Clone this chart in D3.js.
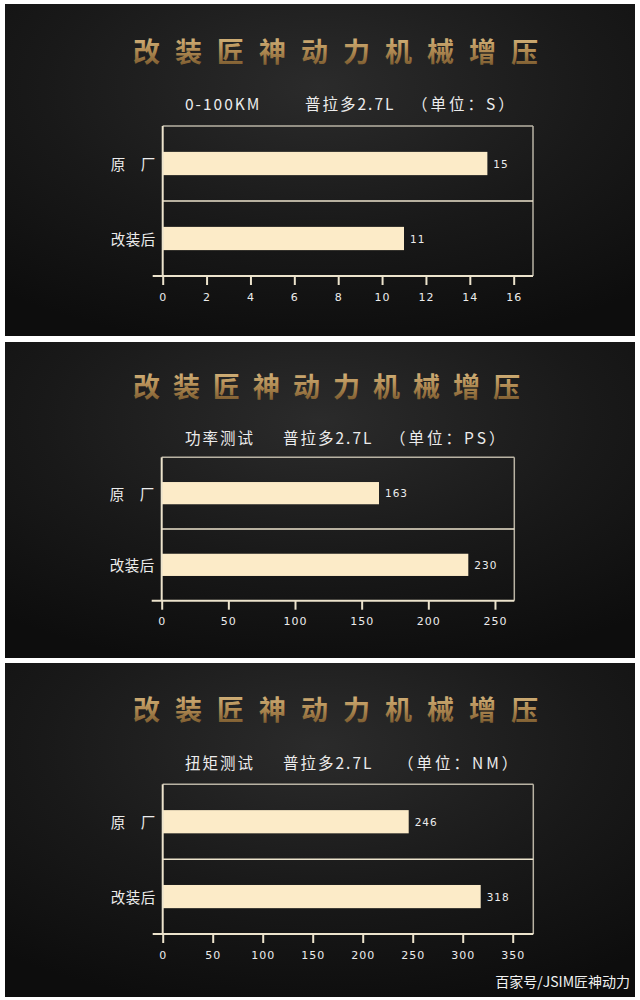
<!DOCTYPE html>
<html>
<head>
<meta charset="utf-8">
<script src="https://cdn.jsdelivr.net/npm/d3@7"></script>
<style>
  html, body { margin: 0; padding: 0; background: #ffffff; }
  svg { display: block; }
</style>
</head>
<body>
<svg id="chart" width="640" height="1000"></svg>
<script>
// ---------- data ----------
const categories = ["原\u3000厂", "改装后"];
const brandTitle = "改装匠神动力机械增压";

const accelLabel = "0-100KM";
const accelValues = [14.8, 11];
const accelTicks = [0, 2, 4, 6, 8, 10, 12, 14, 16];
const accelMax = 16.88;
const accelUnit = "（单位：S）";

const powerLabel = "功率测试";
const powerValues = [163, 230];
const powerTicks = [0, 50, 100, 150, 200, 250];
const powerMax = 264.5;
const powerUnit = "（单位：PS）";

const torqueLabel = "扭矩测试";
const torqueValues = [246, 318];
const torqueTicks = [0, 50, 100, 150, 200, 250, 300, 350];
const torqueMax = 370.6;
const torqueUnit = "（单位：NM）";

const modelLabel = "普拉多2.7L";
const watermark = "百家号/JSIM匠神动力";

// ---------- layout ----------
const panels = [
  { label: accelLabel, unit: accelUnit, values: accelValues, ticks: accelTicks, max: accelMax,
    top: 4, bottom: 336, titleY: 50, titleSpacing: 15, subY: 103, subX: [185, 305, 412],
    frameTop: 126, axisY: 276, left: 162.7, right: 533 },
  { label: powerLabel, unit: powerUnit, values: powerValues, ticks: powerTicks, max: powerMax,
    top: 342, bottom: 658, titleY: 385, titleSpacing: 13, subY: 437, subX: [185, 283, 390],
    frameTop: 457.3, axisY: 600.7, left: 161.7, right: 514.3 },
  { label: torqueLabel, unit: torqueUnit, values: torqueValues, ticks: torqueTicks, max: torqueMax,
    top: 663, bottom: 997, titleY: 708, titleSpacing: 15, subY: 762, subX: [185, 283, 398],
    frameTop: 784.3, axisY: 934, left: 162.7, right: 533.3 }
];

const svg = d3.select("#chart");
const defs = svg.append("defs");

const bg = defs.append("radialGradient").attr("id", "bg")
  .attr("cx", "50%").attr("cy", "25%").attr("r", "80%");
bg.append("stop").attr("offset", "0%").attr("stop-color", "#2b2b2b");
bg.append("stop").attr("offset", "55%").attr("stop-color", "#191919");
bg.append("stop").attr("offset", "100%").attr("stop-color", "#0d0d0d");

const gold = defs.append("linearGradient").attr("id", "gold")
  .attr("x1", 0).attr("y1", 0).attr("x2", 0).attr("y2", 1);
gold.append("stop").attr("offset", "0%").attr("stop-color", "#e3c68f");
gold.append("stop").attr("offset", "50%").attr("stop-color", "#b38d55");
gold.append("stop").attr("offset", "100%").attr("stop-color", "#6e4f26");

const font = "'Noto Sans CJK SC', 'Noto Sans', sans-serif";
const lineColor = "#ece3cc";
const frameColor = "#b9b3a4";
const barColor = "#fcebc8";
const textColor = "#ececec";

panels.forEach(p => {
  const g = svg.append("g");
  g.append("rect").attr("x", 5).attr("y", p.top).attr("width", 630).attr("height", p.bottom - p.top)
    .attr("fill", "url(#bg)");

  // title
  g.append("text").attr("x", 133).attr("y", p.titleY).attr("dominant-baseline", "central")
    .attr("font-family", font).attr("font-weight", 700).attr("font-size", 27)
    .attr("letter-spacing", p.titleSpacing).attr("fill", "url(#gold)")
    .text(brandTitle);

  // subtitle
  [p.label, modelLabel, p.unit].forEach((t, i) => {
    g.append("text").attr("x", p.subX[i]).attr("y", p.subY).attr("dominant-baseline", "central")
      .attr("font-family", font).attr("font-size", 15.5).attr("fill", textColor)
      .attr("letter-spacing", i === 2 ? 3 : 2)
      .text(t);
  });

  const x = d3.scaleLinear().domain([0, p.max]).range([p.left, p.right]);
  const y = d3.scaleBand().domain(categories).range([p.frameTop, p.axisY]).padding(0);
  const barH = y.bandwidth() * 0.31;

  // frame
  g.append("line").attr("x1", p.left).attr("x2", p.right).attr("y1", p.frameTop).attr("y2", p.frameTop)
    .attr("stroke", frameColor).attr("stroke-width", 1.5);
  g.append("line").attr("x1", p.right).attr("x2", p.right).attr("y1", p.frameTop).attr("y2", p.axisY)
    .attr("stroke", frameColor).attr("stroke-width", 1.5);
  g.append("line").attr("x1", p.left).attr("x2", p.right)
    .attr("y1", y(categories[1])).attr("y2", y(categories[1]))
    .attr("stroke", lineColor).attr("stroke-width", 1.5);

  // bars
  g.selectAll("rect.bar").data(p.values).join("rect").attr("class", "bar")
    .attr("x", x(0)).attr("width", d => x(d) - x(0))
    .attr("y", (d, i) => y(categories[i]) + y.bandwidth() / 2 - barH / 2)
    .attr("height", barH).attr("fill", barColor);

  // value labels
  g.selectAll("text.val").data(p.values).join("text").attr("class", "val")
    .attr("x", d => x(d) + 6)
    .attr("y", (d, i) => y(categories[i]) + y.bandwidth() / 2)
    .attr("dominant-baseline", "central")
    .attr("font-family", "'DejaVu Sans', sans-serif").attr("font-size", 10.5)
    .attr("letter-spacing", 1).attr("fill", textColor)
    .text(d => d3.format(".0f")(d));

  // category labels
  g.selectAll("text.cat").data(categories).join("text").attr("class", "cat")
    .attr("x", p.left - 7).attr("y", d => y(d) + y.bandwidth() / 2)
    .attr("text-anchor", "end").attr("dominant-baseline", "central")
    .attr("font-family", font).attr("font-size", 14.5).attr("letter-spacing", 0.5).attr("fill", textColor)
    .text(d => d);

  // left axis line
  g.append("line").attr("x1", p.left).attr("x2", p.left).attr("y1", p.frameTop).attr("y2", p.axisY)
    .attr("stroke", lineColor).attr("stroke-width", 2);

  // bottom axis
  const ax = g.append("g").attr("transform", `translate(0,${p.axisY})`)
    .call(d3.axisBottom(x).tickValues(p.ticks).tickSize(9).tickPadding(8).tickFormat(d3.format("d")));
  ax.select(".domain").remove();
  ax.selectAll(".tick line").attr("stroke", lineColor).attr("stroke-width", 2);
  ax.selectAll(".tick text").attr("fill", textColor).attr("font-size", 11)
    .attr("font-family", "'DejaVu Sans', sans-serif").attr("letter-spacing", 1);
  g.append("line").attr("x1", p.left - 10).attr("x2", p.right).attr("y1", p.axisY).attr("y2", p.axisY)
    .attr("stroke", lineColor).attr("stroke-width", 2);
});

svg.append("text").attr("x", 630).attr("y", 981).attr("text-anchor", "end")
  .attr("dominant-baseline", "central").attr("font-family", font).attr("font-size", 14)
  .attr("fill", "#f2f2f2").text(watermark);
</script>
</body>
</html>
